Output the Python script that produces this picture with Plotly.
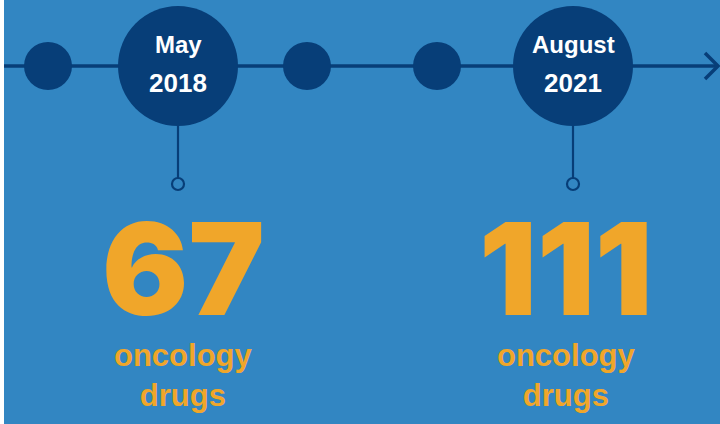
import plotly.graph_objects as go

# ---- data ----
months = ["May", "August"]
years = ["2018", "2021"]
drug_counts = [67, 111]
count_label = ["oncology", "drugs"]

# ---- layout constants ----
W, H = 720, 424
BG = "#3286C2"
NAVY = "#073E78"
ORANGE = "#F0A62A"
LINE_Y = 66
big_x = [178, 573]
text_x = [183, 566]
small_x = [48, 307, 437]
BIG_R = 60
SMALL_R = 24

fig = go.Figure()
shapes = []
# background (leaves a white strip at left)
shapes.append(dict(type="rect", x0=4, x1=W, y0=0, y1=H, fillcolor=BG, line_width=0, layer="below"))
# timeline line
shapes.append(dict(type="line", x0=4, x1=718, y0=LINE_Y, y1=LINE_Y, line=dict(color=NAVY, width=3.5)))
# arrow head
shapes.append(dict(type="path", path=f"M 705 {LINE_Y-13} L 718 {LINE_Y} L 705 {LINE_Y+13}",
                   line=dict(color=NAVY, width=3.5)))
for sx in small_x:
    shapes.append(dict(type="circle", x0=sx - SMALL_R, x1=sx + SMALL_R, y0=LINE_Y - SMALL_R, y1=LINE_Y + SMALL_R,
                       fillcolor=NAVY, line_width=0))
for bx in big_x:
    shapes.append(dict(type="line", x0=bx, x1=bx, y0=LINE_Y + BIG_R - 2, y1=178, line=dict(color=NAVY, width=2.2)))
    shapes.append(dict(type="circle", x0=bx - 6, x1=bx + 6, y0=178, y1=190,
                       fillcolor=BG, line=dict(color=NAVY, width=2.2)))
    shapes.append(dict(type="circle", x0=bx - BIG_R, x1=bx + BIG_R, y0=LINE_Y - BIG_R, y1=LINE_Y + BIG_R,
                       fillcolor=NAVY, line_width=0))

annotations = []
sans = "Liberation Sans, Arial, sans-serif"
for i, bx in enumerate(big_x):
    tx = text_x[i]
    annotations.append(dict(x=bx, y=44.5, text=f"<b>{months[i]}</b>", showarrow=False,
                            font=dict(family=sans, size=24, color="white"), xanchor="center", yanchor="middle"))
    annotations.append(dict(x=bx, y=83, text=f"<b>{years[i]}</b>", showarrow=False,
                            font=dict(family=sans, size=26, color="white"), xanchor="center", yanchor="middle"))
    annotations.append(dict(x=tx, y=268, text=str(drug_counts[i]), showarrow=False, height=120, valign="middle",
                            font=dict(family="Inter, sans-serif", size=128, color=ORANGE, weight=900),
                            xanchor="center", yanchor="middle"))
    annotations.append(dict(x=tx, y=375, text="<b>" + "<br>".join(count_label) + "</b>", showarrow=False,
                            font=dict(family=sans, size=31, color=ORANGE), xanchor="center", yanchor="middle"))

fig.update_layout(
    width=W, height=H, margin=dict(l=0, r=0, t=0, b=0),
    paper_bgcolor="white", plot_bgcolor="white",
    xaxis=dict(range=[0, W], visible=False, fixedrange=True),
    yaxis=dict(range=[H, 0], visible=False, fixedrange=True),
    shapes=shapes, annotations=annotations, showlegend=False,
)
fig.write_html("out.html", config={"displayModeBar": False},
               post_script="document.body.style.margin='0';document.body.style.padding='0';")
